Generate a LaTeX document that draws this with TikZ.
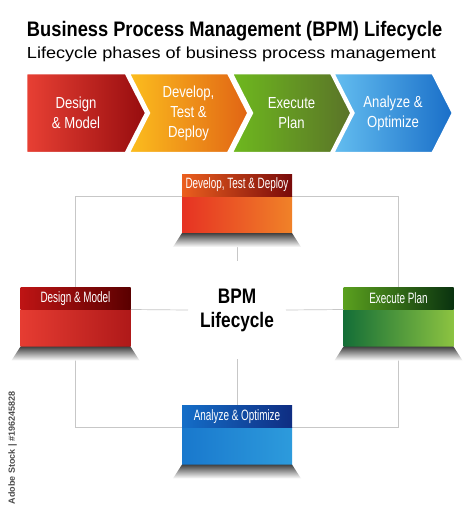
\documentclass[tikz,border=0pt]{standalone}
\usepackage{fontspec}
\setmainfont{Liberation Sans}
\newfontfamily\narrowfont[FakeStretch=0.82]{Liberation Sans}
\newfontfamily\titlefont[FakeStretch=0.87]{Liberation Sans}
\newfontfamily\tightfont[FakeStretch=0.66]{Liberation Sans}
\newfontfamily\widefont[FakeStretch=1.13]{Liberation Sans}
\usepackage{tikz}
\usetikzlibrary{shapes.symbols, positioning, calc, backgrounds}

% chevron colours
\definecolor{redA}{RGB}{232,64,52}
\definecolor{redB}{RGB}{150,12,14}
\definecolor{orangeA}{RGB}{252,190,30}
\definecolor{orangeB}{RGB}{225,100,20}
\definecolor{greenA}{RGB}{110,185,30}
\definecolor{greenB}{RGB}{90,115,40}
\definecolor{blueA}{RGB}{100,190,240}
\definecolor{blueB}{RGB}{25,110,200}
% box colours
\definecolor{dtdHeadA}{RGB}{235,95,30}
\definecolor{dtdHeadB}{RGB}{120,10,10}
\definecolor{dtdBodyA}{RGB}{230,50,35}
\definecolor{dtdBodyB}{RGB}{240,130,40}
\definecolor{dmHeadA}{RGB}{190,20,20}
\definecolor{dmHeadB}{RGB}{90,0,0}
\definecolor{dmBodyA}{RGB}{230,60,50}
\definecolor{dmBodyB}{RGB}{175,25,25}
\definecolor{epHeadA}{RGB}{90,160,30}
\definecolor{epHeadB}{RGB}{10,50,15}
\definecolor{epBodyA}{RGB}{20,110,55}
\definecolor{epBodyB}{RGB}{140,195,65}
\definecolor{aoHeadA}{RGB}{20,110,200}
\definecolor{aoHeadB}{RGB}{15,45,130}
\definecolor{aoBodyA}{RGB}{25,120,205}
\definecolor{aoBodyB}{RGB}{45,155,220}

\begin{document}
\begin{tikzpicture}[x=1pt,y=-1pt,
                every node/.style={inner sep=0pt, outer sep=0pt},
                phase/.style={signal, signal to=east, signal pointer angle=126, minimum width=120pt, minimum height=80pt, draw=white, line width=2.5pt, text=white, align=center, font=\narrowfont\fontsize{16}{20}\selectfont},
                stage/.style={rectangle, minimum width=110pt, minimum height=37pt},
                banner/.style={rectangle, minimum width=110pt, minimum height=22pt, text=white, font=\tightfont\fontsize{15}{17}\selectfont},
                link/.style={draw=black!22, line width=0.7pt},
                drop/.style={top color=black!75, bottom color=white}
                ]
                \begin{scope}[on background layer]
                \fill[white] (0,0) rectangle (474,512);
                \end{scope}
                \useasboundingbox (0,0) rectangle (474,512);

                % heading
                \node[anchor=base west, font=\titlefont\bfseries\fontsize{21}{24}\selectfont] (title) at (27,36.7) {Business Process Management (BPM) Lifecycle};
                \node[anchor=base west, font=\widefont\fontsize{16}{19}\selectfont] (subtitle) at (27,58.3) {Lifecycle phases of business process management};

                % chevrons
                \node[phase, signal from=nowhere, left color=redA, right color=redB] (design) at (76,113) {Design\\\& Model};
                \node[phase, signal from=west, left color=orangeA, right color=orangeB] (develop) at (188.5,113) {Develop,\\Test \&\\Deploy};
                \node[phase, signal from=west, left color=greenA, right color=greenB] (execute) at (291.5,113) {Execute\\Plan};
                \node[phase, signal from=west, left color=blueA, right color=blueB] (analyze) at (393,113) {Analyze \&\\Optimize};

                % lifecycle boxes
                \node[stage, left color=dtdBodyA, right color=dtdBodyB] (dtd) at (237,214.5) {};
                \node[banner, above=0pt of dtd, left color=dtdHeadA, right color=dtdHeadB] (dtdhead) {Develop, Test \& Deploy};
                \node[stage, left color=dmBodyA, right color=dmBodyB] (dm) at (75.5,328) {};
                \node[banner, above=0pt of dm, left color=dmHeadA, right color=dmHeadB] (dmhead) {Design \& Model};
                \node[stage, left color=epBodyA, right color=epBodyB] (ep) at (398.5,328) {};
                \node[banner, above=0pt of ep, left color=epHeadA, right color=epHeadB] (ephead) {Execute Plan};
                \node[stage, left color=aoBodyA, right color=aoBodyB] (ao) at (237,446) {};
                \node[banner, above=0pt of ao, left color=aoHeadA, right color=aoHeadB] (aohead) {Analyze \& Optimize};

                \foreach \b in {dtd,dm,ep,ao}
                  \shade[drop] (\b.south west) -- (\b.south east) -- ($(\b.south east)+(9,14)$) -- ($(\b.south west)+(-9,14)$) -- cycle;

                % centre
                \node[minimum width=98pt, minimum height=98pt, align=center, font=\narrowfont\bfseries\fontsize{21}{24}\selectfont] (bpm) at (237,310) {BPM\\Lifecycle};

                \begin{scope}[on background layer]
                \draw[link] (dtd.north west) -| (dmhead.north);
                \draw[link] (dtd.north east) -| (ephead.north);
                \draw[link] (dm.south) |- (ao.north west);
                \draw[link] (ep.south) |- (ao.north east);
                \draw[link] (dtd.south) -- (bpm.north);
                \draw[link] (dm.north east) -- (bpm.west);
                \draw[link] (ep.north west) -- (bpm.east);
                \draw[link] (aohead.north) -- (bpm.south);
                \end{scope}

                \node[rotate=90, anchor=base west, text=black!70, font=\bfseries\fontsize{9}{10}\selectfont] (stock) at (15,504) {Adobe Stock | \#196245828};
        \end{tikzpicture}
\end{document}
